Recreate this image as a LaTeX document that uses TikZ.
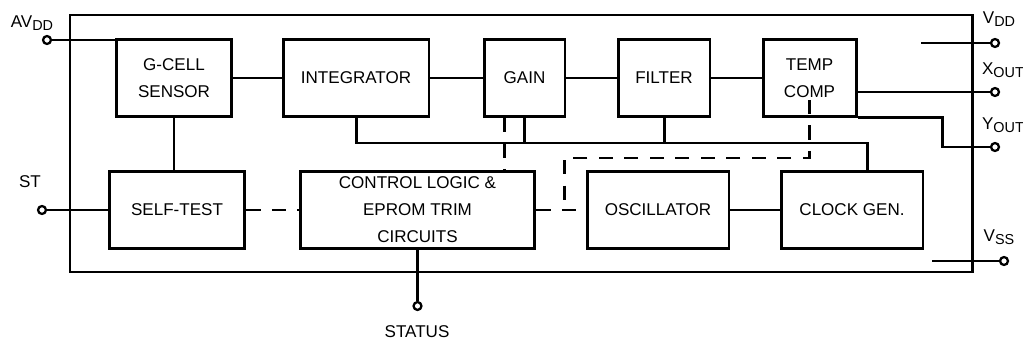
\documentclass[tikz,border=0pt]{standalone}
\usepackage{fontspec}
\setmainfont{Liberation Sans}
\newcommand\pinsub[1]{\raisebox{-0.35ex}{\fontsize{8.2}{9}\selectfont #1}}
\begin{document}
\begin{tikzpicture}[x=0.02cm,y=-0.02cm,line width=1.7pt,
  font=\fontsize{9.7}{15.3}\selectfont,
  blk/.style={draw,align=center,minimum height=1.54cm,inner sep=0pt},
  pin/.style={circle,draw,fill=white,line width=1.3pt,inner sep=0pt,minimum size=4.5pt},
  dsh/.style={dash pattern=on 8pt off 6.5pt}]
  \useasboundingbox (0,0) rectangle (1023,341);
  % Package outline.
  \draw (70,15) rectangle (972,272);

  % Signal chain.
  \node[blk,minimum width=2.32cm] (gcell) at (174,78) {G-CELL\\SENSOR};
  \node[blk,minimum width=2.92cm] (integ) at (356,78) {INTEGRATOR};
  \node[blk,minimum width=1.62cm] (gain) at (524.5,78) {GAIN};
  \node[blk,minimum width=1.84cm] (filter) at (664,78) {FILTER};
  \node[blk,minimum width=1.86cm] (temp) at (809.5,78) {TEMP\\COMP};

  % Control row.
  \node[blk,minimum width=2.72cm] (stest) at (177,210) {SELF-TEST};
  \node[blk,minimum width=4.70cm] (ctrl) at (417.5,210) {CONTROL LOGIC \&\\EPROM TRIM\\CIRCUITS};
  \node[blk,minimum width=2.84cm] (osc) at (658,210) {OSCILLATOR};
  \node[blk,minimum width=2.84cm] (clk) at (852,210) {CLOCK GEN.};

  % Pins.
  \node[pin] (avdd) at (47,40) {};
  \node[pin] (st) at (42,210) {};
  \node[pin] (status) at (417.5,306) {};
  \node[pin] (vdd) at (995,43) {};
  \node[pin] (xout) at (995,92) {};
  \node[pin] (yout) at (995,147) {};
  \node[pin] (vss) at (1004,261) {};
  \node (avddlbl) at (32,23) {AV\pinsub{DD}};
  \node (stlbl) at (30,182) {ST};
  \node (statuslbl) at (417,332) {STATUS};
  \node (vddlbl) at (999,19) {V\pinsub{DD}};
  \node (xoutlbl) at (1003,70) {X\pinsub{OUT}};
  \node (youtlbl) at (1003,125) {Y\pinsub{OUT}};
  \node (vsslbl) at (999,237) {V\pinsub{SS}};

  \draw (avdd) -- (avdd -| gcell.west);
  \draw (gcell) -- (integ);
  \draw (integ) -- (gain);
  \draw (gain) -- (filter);
  \draw[line width=1.1pt] (filter) -- (temp);
  \draw (gcell.south) -- (gcell.south |- stest.north);
  \draw (st) -- (stest);
  \draw[dsh] (stest) -- (ctrl);
  \draw[dsh] (ctrl) -- (osc);
  \draw (osc) -- (clk);
  \draw (ctrl) -- (status);

  % Bus to clock.
  \coordinate (busr) at (867,143);
  \draw (integ.south) |- (busr) -- (busr |- clk.north);
  \draw (gain.south) -- (gain.south |- busr);
  \draw (filter.south) -- (filter.south |- busr);

  % Trim lines.
  \coordinate (tapg) at ([xshift=-0.4cm]gain.south);
  \coordinate (tapt) at ([yshift=-0.44cm]temp.center);
  \coordinate (tapo) at (564,210);
  \draw[dsh] (tapg) -- (tapg |- ctrl.north);
  \draw[dsh] (tapt) |- (tapo |- 0,158) -- (tapo);

  % Outputs and supplies.
  \draw (temp.east |- xout) -- (xout);
  \draw (temp.south east) -| (942,147) -- (yout);
  \draw (921,43) -- (vdd);
  \draw (932,261) -- (vss);
\end{tikzpicture}
\end{document}
